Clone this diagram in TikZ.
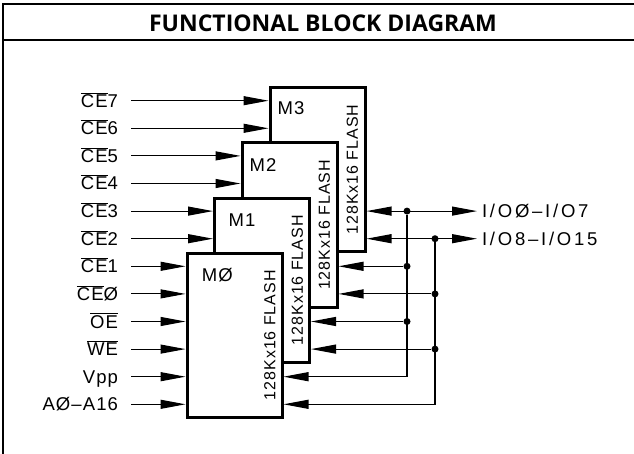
\documentclass[tikz,border=0pt]{standalone}
\usepackage{fontspec}
\setmainfont{Liberation Sans}
\newfontfamily\cadfont[LetterSpace=6]{Liberation Sans}
\newfontfamily\cadwide[LetterSpace=15]{Liberation Sans}
\newfontfamily\headfont{Open Sans}
\usetikzlibrary{arrows.meta}

\newcommand{\nbar}[1]{$\overline{\hbox{#1}}$}

\tikzset{
  sig/.style={line width=1.1pt,-{Triangle[length=25pt,width=9pt]}},
  duplex/.style={line width=1.1pt,{Triangle[length=25pt,width=9pt]}-{Triangle[length=25pt,width=9pt]}},
  chip/.style={draw,line width=3pt,fill=white,minimum width=95pt,minimum height=164pt,inner sep=0pt},
  inlabel/.style={anchor=east,inner sep=0pt,outer xsep=13pt,text height=13pt,text depth=0pt,font=\cadfont\fontsize{18.5}{18.5}\selectfont},
  outlabel/.style={anchor=west,inner sep=0pt,outer xsep=5pt,text height=13pt,text depth=0pt,font=\cadwide\fontsize{18.5}{18.5}\selectfont},
  chipname/.style={anchor=west,inner sep=0pt,text height=13pt,text depth=0pt,font=\cadfont\fontsize{18.5}{18.5}\selectfont},
  chiptype/.style={rotate=90,inner sep=0pt,text height=11.5pt,text depth=0pt,font=\cadfont\fontsize{16}{16}\selectfont},
  junction/.style={circle,fill,inner sep=0pt,minimum size=7pt},
}

\begin{document}
\begin{tikzpicture}[x=1pt,y=-1pt]
	\useasboundingbox (0,0) rectangle (634,454);
	% frame and title
	\draw [line width=2pt] (634,4.3) -- (2.5,4.3) -- (2.5,454);
	\draw [line width=2pt] (2.5,39.7) -- (634,39.7);
	\node [font=\headfont\bfseries\fontsize{23}{23}\selectfont] (title) at (323,23) {FUNCTIONAL BLOCK DIAGRAM};
	% the four flash banks, back to front
	\node [chip] (m3) at (317.5,169.5) {};
	\node [chip] (m2) at (289.5,225) {};
	\node [chip] (m1) at (262,280.2) {};
	\node [chip] (m0) at (234.5,335.2) {};
	\node [chipname] at (277.3,108.5) {M3};
	\node [chipname] at (249.3,165) {M2};
	\node [chipname] at (228.3,220.2) {M1};
	\node [chipname] at (201.7,275.2) {MØ};
	\node [chiptype] at (352,169.5) {128Kx16 FLASH};
	\node [chiptype] at (324,225) {128Kx16 FLASH};
	\node [chiptype] at (297,280.2) {128Kx16 FLASH};
	\node [chiptype] at (269.5,335.2) {128Kx16 FLASH};
	% inputs
	\node [inlabel] (ce7) at (131,100.7) {\nbar{CE}7};
	\node [inlabel] (ce6) at (131,128.3) {\nbar{CE}6};
	\node [inlabel] (ce5) at (131,155.9) {\nbar{CE}5};
	\node [inlabel] (ce4) at (131,183.5) {\nbar{CE}4};
	\node [inlabel] (ce3) at (131,211.1) {\nbar{CE}3};
	\node [inlabel] (ce2) at (131,238.7) {\nbar{CE}2};
	\node [inlabel] (ce1) at (131,266.3) {\nbar{CE}1};
	\node [inlabel] (ce0) at (131,293.9) {\nbar{CE}Ø};
	\node [inlabel] (oe) at (131,321.5) {\nbar{OE}};
	\node [inlabel] (we) at (131,349.1) {\nbar{WE}};
	\node [inlabel] (vpp) at (131,376.7) {Vpp};
	\node [inlabel] (addr) at (131,404.3) {AØ–A16};
	\draw [sig] (ce7) -- (ce7 -| m3.west);
	\draw [sig] (ce6) -- (ce6 -| m3.west);
	\draw [sig] (ce5) -- (ce5 -| m2.west);
	\draw [sig] (ce4) -- (ce4 -| m2.west);
	\draw [sig] (ce3) -- (ce3 -| m1.west);
	\draw [sig] (ce2) -- (ce2 -| m1.west);
	\draw [sig] (ce1) -- (ce1 -| m0.west);
	\draw [sig] (ce0) -- (ce0 -| m0.west);
	\draw [sig] (oe) -- (oe -| m0.west);
	\draw [sig] (we) -- (we -| m0.west);
	\draw [sig] (vpp) -- (vpp -| m0.west);
	\draw [sig] (addr) -- (addr -| m0.west);
	% data buses
	\node [outlabel] (iolo) at (477,211.1) {I/OØ–I/O7};
	\node [outlabel] (iohi) at (477,238.7) {I/O8–I/O15};
	\node [junction] (d3a) at (407,211.1) {};
	\node [junction] (d3b) at (435,238.7) {};
	\node [junction] (d2a) at (407,266.3) {};
	\node [junction] (d2b) at (435,293.9) {};
	\node [junction] (d1a) at (407,321.5) {};
	\node [junction] (d1b) at (435,349.1) {};
	\coordinate (c0a) at (407,376.7);
	\coordinate (c0b) at (435,404.3);
	\draw [duplex] (m3.east |- iolo) -- (iolo);
	\draw [duplex] (m3.east |- iohi) -- (iohi);
	\draw [sig] (d2a) -- (d2a -| m2.east);
	\draw [sig] (d2b) -- (d2b -| m2.east);
	\draw [sig] (d1a) -- (d1a -| m1.east);
	\draw [sig] (d1b) -- (d1b -| m1.east);
	\draw [sig] (d3a) -- (c0a) -- (c0a -| m0.east);
	\draw [sig] (d3b) -- (c0b) -- (c0b -| m0.east);
\end{tikzpicture}
\end{document}
